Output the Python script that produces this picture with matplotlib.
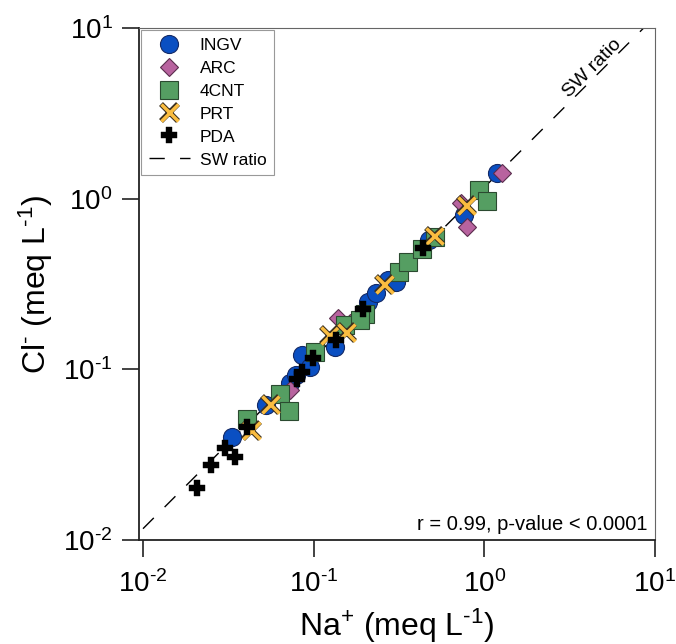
import matplotlib
matplotlib.use("Agg")
import matplotlib.pyplot as plt
import matplotlib.patheffects as pe
from matplotlib.ticker import FixedLocator, FuncFormatter
import numpy as np

plt.rcParams['font.family'] = ['Liberation Sans', 'DejaVu Sans']
plt.rcParams['mathtext.fontset'] = 'custom'
plt.rcParams['mathtext.rm'] = 'Liberation Sans'
plt.rcParams['mathtext.it'] = 'Liberation Sans:italic'
plt.rcParams['mathtext.bf'] = 'Liberation Sans:bold'

# Na+ (x) and Cl- (y) in meq/L
ingv_na = [0.0331, 0.0524, 0.0724, 0.0785, 0.0851, 0.0948, 0.1327, 0.207, 0.233, 0.271, 0.305, 0.476, 0.764, 1.191]
ingv_cl = [0.0399, 0.0615, 0.0828, 0.0923, 0.121, 0.1028, 0.1346, 0.247, 0.279, 0.333, 0.324, 0.571, 0.800, 1.413]

arc_na = [0.0724, 0.138, 0.163, 0.733, 0.796, 1.274]
arc_cl = [0.0753, 0.199, 0.186, 0.942, 0.681, 1.413]

cnt_na = [0.0405, 0.0632, 0.0714, 0.1015, 0.152, 0.199, 0.186, 0.318, 0.355, 0.429, 0.511, 0.935, 1.042]
cnt_cl = [0.0509, 0.0713, 0.0567, 0.126, 0.181, 0.210, 0.194, 0.371, 0.425, 0.506, 0.594, 1.122, 0.967]

prt_na = [0.0433, 0.0561, 0.124, 0.156, 0.260, 0.511, 0.785]
prt_cl = [0.0439, 0.0623, 0.158, 0.165, 0.315, 0.603, 0.916]

pda_na = [0.0207, 0.0250, 0.0302, 0.0345, 0.0405, 0.0797, 0.0851, 0.0986, 0.136, 0.194, 0.440]
pda_cl = [0.0203, 0.0274, 0.0344, 0.0305, 0.0457, 0.0873, 0.0960, 0.117, 0.148, 0.225, 0.513]

sw_ratio = 1.165  # Cl/Na in seawater
sw_x = [0.01, 10]
tick_vals = [0.01, 0.1, 1, 10]

fig = plt.figure(figsize=(6.76, 6.44), dpi=100)
ax = fig.add_axes([139 / 676, 104 / 644, 516 / 676, 512 / 644])
ax.set_xscale('log')
ax.set_yscale('log')

ax.plot(sw_x, [v * sw_ratio for v in sw_x], color='black', lw=1.0,
        dashes=(11, 11), label='SW ratio', zorder=1)

ax.plot(ingv_na, ingv_cl, 'o', ms=13, mfc='#0a4fc2', mec='#142a66', mew=0.8,
        label='INGV', zorder=2)
ax.plot(arc_na, arc_cl, 'D', ms=9.5, mfc='#b8639f', mec='#5a2d4d', mew=0.8,
        label='ARC', zorder=3)
ax.plot(cnt_na, cnt_cl, 's', ms=13, mfc='#559e62', mec='#2b4a30', mew=0.8,
        label='4CNT', zorder=4)
ax.plot(prt_na, prt_cl, 'x', ms=12, mec='#fbbd40', mew=2.5, label='PRT', zorder=5,
        path_effects=[pe.withStroke(linewidth=4, foreground='#3a3020')])
ax.plot(pda_na, pda_cl, 'P', ms=11.5, mfc='black', mec='black', mew=0.3,
        label='PDA', zorder=6)


def pow_label(v, pos):
    e = int(round(np.log10(v)))
    return r'$10^{\text{%d}}$' % e


ax.set_xlim(10 ** (-2 - 4 / 171), 10)
ax.set_ylim(0.01, 10)
ax.minorticks_off()
ax.xaxis.set_major_locator(FixedLocator(tick_vals))
ax.yaxis.set_major_locator(FixedLocator(tick_vals))
ax.xaxis.set_major_formatter(FuncFormatter(pow_label))
ax.yaxis.set_major_formatter(FuncFormatter(pow_label))
ax.tick_params(axis='both', which='major', direction='out', length=12, width=1.2,
               labelsize=20, color='#222222')
ax.tick_params(axis='x', pad=10)
ax.tick_params(axis='y', pad=7)

for s in ['left', 'bottom']:
    ax.spines[s].set_linewidth(1.3)
    ax.spines[s].set_color('#222222')
for s in ['top', 'right']:
    ax.spines[s].set_linewidth(0.8)
    ax.spines[s].set_color('#666666')

ax.set_xlabel(r'Na$^{\text{+}}$ (meq L$^{\text{-1}}$)', fontsize=23, labelpad=6)
ax.set_ylabel(r'Cl$^{\text{-}}$ (meq L$^{\text{-1}}$)', fontsize=23, labelpad=6)

handles, labels = ax.get_legend_handles_labels()
order = [1, 2, 3, 4, 5, 0]
leg = ax.legend([handles[i] for i in order], [labels[i] for i in order],
                loc='upper left', borderaxespad=0.1, fontsize=12.5, handlelength=2.4,
                handletextpad=0.55, labelspacing=0.45, borderpad=0.45,
                fancybox=False, framealpha=1, edgecolor='#999999')
leg.get_frame().set_linewidth(0.8)

ax.annotate('SW ratio', xy=(4.6, 4.6 * sw_ratio), xytext=(-4, 4),
            textcoords='offset points', rotation=45, rotation_mode='anchor',
            ha='center', va='center', fontsize=14)

ax.text(0.986, 0.02, 'r = 0.99, p-value < 0.0001', transform=ax.transAxes,
        ha='right', va='baseline', fontsize=14.5)

fig.savefig('out.png', dpi=100)
